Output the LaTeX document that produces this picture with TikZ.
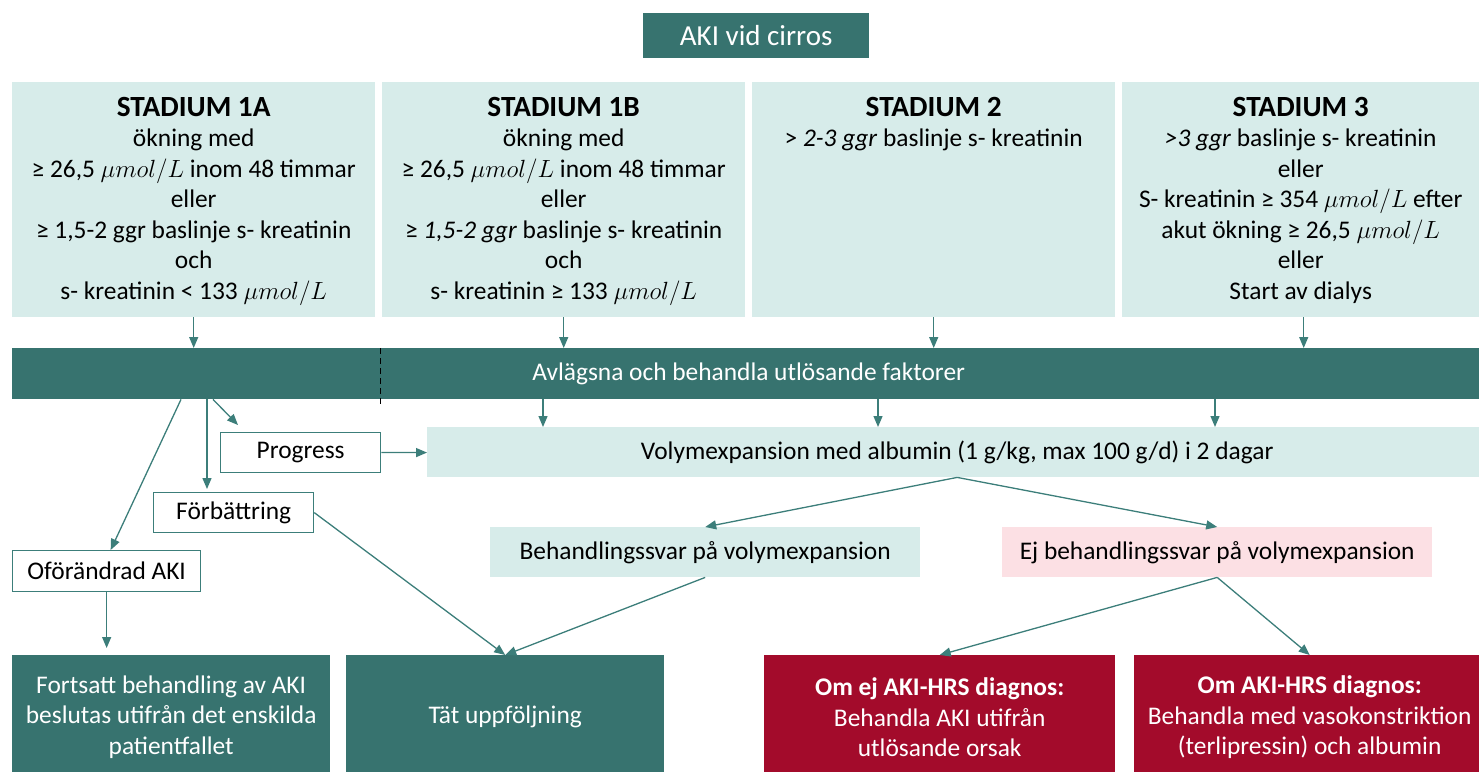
\documentclass[tikz,border=0pt]{standalone}
\usepackage{fontspec}
\setmainfont{Carlito}
\usetikzlibrary{positioning,arrows.meta}

\definecolor{akiTeal}{HTML}{37736F}
\definecolor{akiLight}{HTML}{D7ECEA}
\definecolor{akiPink}{HTML}{FCE0E4}
\definecolor{akiRed}{HTML}{A30B2B}
\definecolor{akiLine}{HTML}{3C7E7A}

\newcommand{\akiUnit}{$\mu mol/L$}
\newcommand{\stageHead}[1]{{\bfseries\fontsize{29.3}{30.5}\selectfont #1}}

\tikzset{
  boxText/.style={font=\fontsize{25.4}{30.5}\selectfont, align=center, inner sep=0pt},
  darkBox/.style={boxText, rectangle, fill=akiTeal, text=white, anchor=north west},
  stageBox/.style={rectangle, fill=akiLight, minimum width=363pt, minimum height=235pt, anchor=north west},
  stageText/.style={boxText, anchor=north},
  lightBox/.style={boxText, fill=akiLight, anchor=north west},
  pinkBox/.style={boxText, fill=akiPink, anchor=north west},
  outlineBox/.style={boxText, fill=white, draw=akiLine, line width=1.3pt, anchor=north west},
  redBox/.style={boxText, fill=akiRed, text=white, anchor=north west},
  flow/.style={draw=akiLine, line width=1.3pt, -{Triangle[length=11pt,width=9pt]}}
}

\begin{document}
\begin{tikzpicture}[x=1pt,y=-1pt]
    \useasboundingbox (0,0) rectangle (1479,771);

    \node[darkBox, minimum width=226pt, minimum height=45pt, font=\fontsize{29}{32}\selectfont] (aki) at (643,13) {AKI vid cirros};

    \node[stageBox] (stadiumA) at (12,82) {};
    \node[stageBox] (stadiumB) at (382,82) {};
    \node[stageBox] (stadiumTwo) at (752,82) {};
    \node[stageBox] (stadiumThree) at (1122,82) {};

    \node[stageText, below=15pt of stadiumA.north] (textA) {\stageHead{STADIUM 1A}\\ ökning med\\ ≥ 26,5 \akiUnit{} inom 48 timmar\\ eller\\ ≥ 1,5-2 ggr baslinje s- kreatinin\\ och\\ s- kreatinin < 133 \akiUnit};
    \node[stageText, below=15pt of stadiumB.north] (textB) {\stageHead{STADIUM 1B}\\ ökning med\\ ≥ 26,5 \akiUnit{} inom 48 timmar\\ eller\\ ≥ \textit{1,5-2 ggr} baslinje s- kreatinin\\ och\\ s- kreatinin ≥ 133 \akiUnit};
    \node[stageText, below=15pt of stadiumTwo.north] (textTwo) {\stageHead{STADIUM 2}\\ > \textit{2-3 ggr} baslinje s- kreatinin};
    \node[stageText, below=15pt of stadiumThree.north, xshift=-3pt] (textThree) {\stageHead{STADIUM 3}\\ \textit{>3 ggr} baslinje s- kreatinin\\ eller\\ S- kreatinin ≥ 354 \akiUnit{} efter\\ akut ökning ≥ 26,5 \akiUnit\\ eller\\ Start av dialys};

    \node[darkBox, minimum width=1473pt, minimum height=51pt] (faktorer) at (12,348) {Avlägsna och behandla utlösande faktorer};
    \draw[black, line width=1pt, dash pattern=on 6pt off 4pt] ([xshift=368pt]faktorer.north west) -- ([xshift=368pt,yshift=-7pt]faktorer.south west);

    \node[lightBox, minimum width=1060pt, minimum height=50pt] (volym) at (427,427) {Volymexpansion med albumin (1 g/kg, max 100 g/d) i 2 dagar};
    \node[outlineBox, minimum width=160pt, minimum height=40pt] (progress) at (220,432) {Progress};
    \node[outlineBox, minimum width=160pt, minimum height=40pt] (forbattring) at (153,492) {Förbättring};
    \node[outlineBox, minimum width=188pt, minimum height=41pt] (oforandrad) at (12,550) {Oförändrad AKI};

    \node[lightBox, minimum width=430pt, minimum height=50pt] (behandling) at (490,527) {Behandlingssvar på volymexpansion};
    \node[pinkBox, minimum width=430pt, minimum height=50pt] (ejBehandling) at (1002,527) {Ej behandlingssvar på volymexpansion};

    \node[darkBox, minimum width=318pt, minimum height=124pt] (fortsatt) at (12,655) {Fortsatt behandling av AKI\\ beslutas utifrån det enskilda\\ patientfallet};
    \node[darkBox, minimum width=318pt, minimum height=124pt] (tat) at (346,655) {Tät uppföljning};
    \node[redBox, minimum width=351pt, minimum height=124pt] (omEj) at (764,655) {{\bfseries Om ej AKI-HRS diagnos:}\\ Behandla AKI utifrån\\ utlösande orsak};
    \node[redBox, minimum width=351pt, minimum height=124pt] (omHrs) at (1134,655) {{\bfseries Om AKI-HRS diagnos:}\\ Behandla med vasokonstriktion\\ (terlipressin) och albumin};

    \foreach \src in {stadiumA,stadiumB,stadiumTwo,stadiumThree}
        \draw[flow] (\src.south) -- (\src.south |- faktorer.north);
    \foreach \x in {543,878,1215} {
        \coordinate (drop) at (\x,0);
        \draw[flow] (faktorer.south -| drop) -- (volym.north -| drop);
    }

    \coordinate (fanA) at (181,0);
    \coordinate (fanB) at (207,0);
    \coordinate (fanC) at (213,0);
    \draw[flow] (faktorer.south -| fanA) -- ([xshift=4pt]oforandrad.north);
    \draw[flow] (faktorer.south -| fanB) -- ([yshift=3pt]forbattring.north -| fanB);
    \draw[flow] (faktorer.south -| fanC) -- ([shift={(18pt,7pt)}]progress.north west);
    \draw[flow] (progress) -- (volym);
    \draw[flow] (oforandrad.south) -- ([yshift=7pt]fortsatt.north -| oforandrad.south);
    \draw[flow] (forbattring.east) -- (tat.north);

    \draw[flow] (volym.south) -- (behandling.north);
    \draw[flow] (volym.south) -- (ejBehandling.north);
    \draw[flow] (behandling.south) -- (tat.north);
    \draw[flow] (ejBehandling.south) -- (omEj.north);
    \draw[flow] (ejBehandling.south) -- (omHrs.north);
\end{tikzpicture}
\end{document}
